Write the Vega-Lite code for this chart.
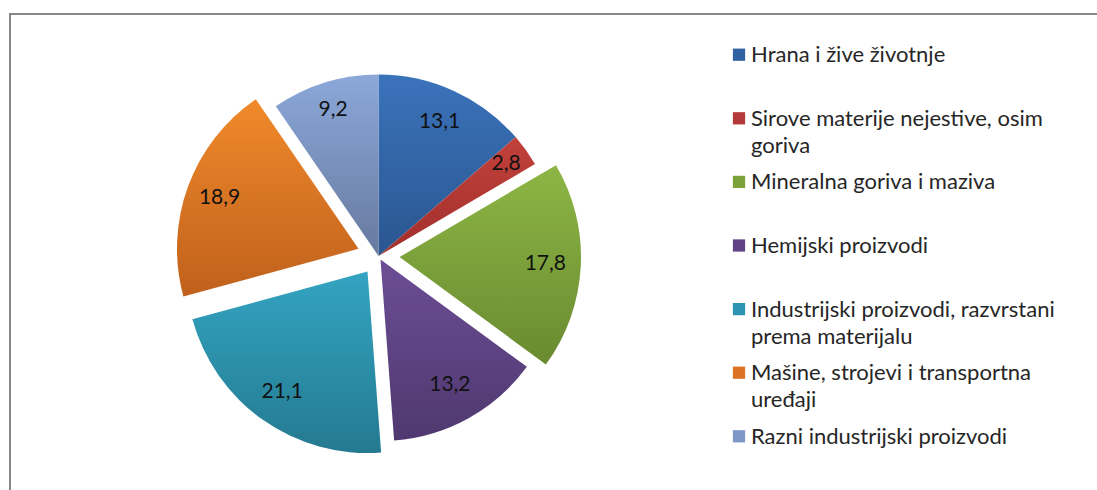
{
  "$schema": "https://vega.github.io/schema/vega-lite/v6.json",
  "background": "white",
  "padding": {"left": 9, "top": 13, "right": 0, "bottom": 0},
  "spacing": 0,
  "bounds": "flush",
  "config": {
    "font": "Lato",
    "locale": {"number": {"decimal": ",", "thousands": ".", "grouping": [3], "currency": ["", ""]}}
  },
  "datasets": {
    "d": [
      {"red": 1, "kategorija": "Hrana i žive životnje", "vrijednost": 13.1},
      {"red": 2, "kategorija": "Sirove materije nejestive, osim\ngoriva", "vrijednost": 2.8},
      {"red": 3, "kategorija": "Mineralna goriva i  maziva", "vrijednost": 17.8},
      {"red": 4, "kategorija": "Hemijski proizvodi", "vrijednost": 13.2},
      {"red": 5, "kategorija": "Industrijski proizvodi, razvrstani\nprema materijalu", "vrijednost": 21.1},
      {"red": 6, "kategorija": "Mašine, strojevi i transportna\nuređaji", "vrijednost": 18.9},
      {"red": 7, "kategorija": "Razni industrijski proizvodi", "vrijednost": 9.2}
    ]
  },
  "hconcat": [
    {
      "width": 737,
      "height": 477,
      "data": {"name": "d"},
      "view": {"stroke": "#878787", "strokeWidth": 2, "strokeDash": [737, 1214, 477]},
      "encoding": {
        "theta": {"field": "vrijednost", "type": "quantitative", "stack": true},
        "order": {"field": "red", "type": "quantitative"},
        "detail": {"field": "kategorija", "type": "nominal"}
      },
      "layer": [
        {
          "mark": {"type": "arc", "outerRadius": 181.5, "xOffset": 0, "yOffset": 3.5,
            "fill": {"gradient": "linear", "x1": 0, "y1": 0, "x2": 0, "y2": 1, "stops": [{"offset": 0, "color": "#3b73bb"}, {"offset": 1, "color": "#2a5690"}]}},
          "encoding": {"opacity": {"condition": {"test": "datum.red === 1", "value": 1}, "value": 0}}
        },
        {
          "mark": {"type": "arc", "outerRadius": 181.5, "xOffset": 0, "yOffset": 3.5,
            "fill": {"gradient": "linear", "x1": 0, "y1": 0, "x2": 0, "y2": 1, "stops": [{"offset": 0, "color": "#c2413b"}, {"offset": 1, "color": "#a02f2c"}]}},
          "encoding": {"opacity": {"condition": {"test": "datum.red === 2", "value": 1}, "value": 0}}
        },
        {
          "mark": {"type": "arc", "outerRadius": 181.5, "xOffset": 21, "yOffset": 4.6,
            "fill": {"gradient": "linear", "x1": 0, "y1": 0, "x2": 0, "y2": 1, "stops": [{"offset": 0, "color": "#8db645"}, {"offset": 1, "color": "#698a30"}]}},
          "encoding": {"opacity": {"condition": {"test": "datum.red === 3", "value": 1}, "value": 0}}
        },
        {
          "mark": {"type": "arc", "outerRadius": 181.5, "xOffset": 2, "yOffset": 7,
            "fill": {"gradient": "linear", "x1": 0, "y1": 0, "x2": 0, "y2": 1, "stops": [{"offset": 0, "color": "#6c4e95"}, {"offset": 1, "color": "#4f386f"}]}},
          "encoding": {"opacity": {"condition": {"test": "datum.red === 4", "value": 1}, "value": 0}}
        },
        {
          "mark": {"type": "arc", "outerRadius": 181.5, "xOffset": -11, "yOffset": 19,
            "fill": {"gradient": "linear", "x1": 0, "y1": 0, "x2": 0, "y2": 1, "stops": [{"offset": 0, "color": "#34a4c2"}, {"offset": 1, "color": "#247a90"}]}},
          "encoding": {"opacity": {"condition": {"test": "datum.red === 5", "value": 1}, "value": 0}}
        },
        {
          "mark": {"type": "arc", "outerRadius": 181.5, "xOffset": -20, "yOffset": -3.7,
            "fill": {"gradient": "linear", "x1": 0, "y1": 0, "x2": 0, "y2": 1, "stops": [{"offset": 0, "color": "#f08a2b"}, {"offset": 1, "color": "#c0601c"}]}},
          "encoding": {"opacity": {"condition": {"test": "datum.red === 6", "value": 1}, "value": 0}}
        },
        {
          "mark": {"type": "arc", "outerRadius": 181.5, "xOffset": 0, "yOffset": 3.5,
            "fill": {"gradient": "linear", "x1": 0, "y1": 0, "x2": 0, "y2": 1, "stops": [{"offset": 0, "color": "#8ba8d9"}, {"offset": 1, "color": "#67799f"}]}},
          "encoding": {"opacity": {"condition": {"test": "datum.red === 7", "value": 1}, "value": 0}}
        },
        {
          "mark": {"type": "text", "radius": 147, "xOffset": 0, "yOffset": 3.5, "fontSize": 21, "font": "Lato", "fill": "#111111"},
          "encoding": {
            "text": {"field": "vrijednost", "type": "quantitative", "format": ".1f"},
            "opacity": {"condition": {"test": "datum.red === 1", "value": 1}, "value": 0}
          }
        },
        {
          "mark": {"type": "text", "radius": 157, "xOffset": 0, "yOffset": 3.5, "fontSize": 21, "font": "Lato", "fill": "#111111"},
          "encoding": {
            "text": {"field": "vrijednost", "type": "quantitative", "format": ".1f"},
            "opacity": {"condition": {"test": "datum.red === 2", "value": 1}, "value": 0}
          }
        },
        {
          "mark": {"type": "text", "radius": 146, "xOffset": 21, "yOffset": 4.6, "fontSize": 21, "font": "Lato", "fill": "#111111"},
          "encoding": {
            "text": {"field": "vrijednost", "type": "quantitative", "format": ".1f"},
            "opacity": {"condition": {"test": "datum.red === 3", "value": 1}, "value": 0}
          }
        },
        {
          "mark": {"type": "text", "radius": 143, "xOffset": 2, "yOffset": 7, "fontSize": 21, "font": "Lato", "fill": "#111111"},
          "encoding": {
            "text": {"field": "vrijednost", "type": "quantitative", "format": ".1f"},
            "opacity": {"condition": {"test": "datum.red === 4", "value": 1}, "value": 0}
          }
        },
        {
          "mark": {"type": "text", "radius": 148, "xOffset": -11, "yOffset": 19, "fontSize": 21, "font": "Lato", "fill": "#111111"},
          "encoding": {
            "text": {"field": "vrijednost", "type": "quantitative", "format": ".1f"},
            "opacity": {"condition": {"test": "datum.red === 5", "value": 1}, "value": 0}
          }
        },
        {
          "mark": {"type": "text", "radius": 148, "xOffset": -20, "yOffset": -3.7, "fontSize": 21, "font": "Lato", "fill": "#111111"},
          "encoding": {
            "text": {"field": "vrijednost", "type": "quantitative", "format": ".1f"},
            "opacity": {"condition": {"test": "datum.red === 6", "value": 1}, "value": 0}
          }
        },
        {
          "mark": {"type": "text", "radius": 153, "xOffset": 0, "yOffset": 3.5, "fontSize": 21, "font": "Lato", "fill": "#111111"},
          "encoding": {
            "text": {"field": "vrijednost", "type": "quantitative", "format": ".1f"},
            "opacity": {"condition": {"test": "datum.red === 7", "value": 1}, "value": 0}
          }
        }
      ]
    },
    {
      "width": 351,
      "height": 463,
      "data": {"name": "d"},
      "view": {"stroke": "#878787", "strokeWidth": 2, "strokeDash": [351, 100000]},
      "encoding": {
        "y": {"field": "kategorija", "type": "nominal", "sort": {"field": "red", "op": "min"},
              "scale": {"type": "point", "padding": 0.64}, "axis": null}
      },
      "layer": [
        {
          "mark": {"type": "point", "shape": "square", "filled": true, "size": 150, "opacity": 1},
          "encoding": {
            "x": {"value": -8},
            "color": {"field": "kategorija", "type": "nominal", "legend": null,
              "scale": {
                "domain": ["Hrana i žive životnje", "Sirove materije nejestive, osim\ngoriva", "Mineralna goriva i  maziva", "Hemijski proizvodi", "Industrijski proizvodi, razvrstani\nprema materijalu", "Mašine, strojevi i transportna\nuređaji", "Razni industrijski proizvodi"],
                "range": ["#3062a3", "#b3393a", "#7ca23a", "#5f4386", "#2c93b0", "#da7424", "#7e98c6"]
              }}
          }
        },
        {
          "mark": {"type": "text", "align": "left", "baseline": "alphabetic", "dy": 7.5, "fontSize": 22, "font": "Lato", "fill": "#262626", "lineBreak": "\n", "lineHeight": 27},
          "encoding": {
            "x": {"value": 4},
            "text": {"field": "kategorija", "type": "nominal"}
          }
        }
      ]
    }
  ]
}
